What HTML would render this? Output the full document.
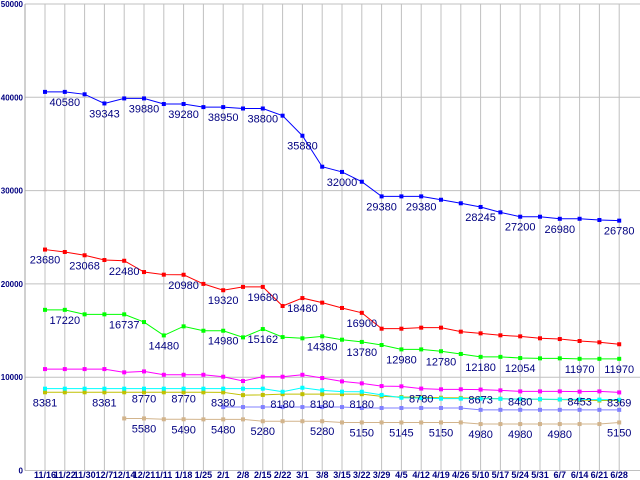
<!DOCTYPE html>
<html><head><meta charset="utf-8"><style>
html,body{margin:0;padding:0;background:#fff;}
svg{display:block;}
</style></head><body>
<svg id="chart" width="640" height="480" xmlns="http://www.w3.org/2000/svg"></svg>
<script>
const categories=["11/16","11/22","11/30","12/7","12/14","12/21","1/11","1/18","1/25","2/1","2/8","2/15","2/22","3/1","3/8","3/15","3/22","3/29","4/5","4/12","4/19","4/26","5/10","5/17","5/24","5/31","6/7","6/14","6/21","6/28"];
const yTicks=[0,10000,20000,30000,40000,50000];
const blueValues=[40580,40580,40320,39343,39880,39880,39280,39280,38950,38950,38800,38800,38030,35880,32560,32000,30950,29380,29380,29380,29020,28640,28245,27670,27200,27200,26980,26980,26850,26780];
const blueLabels=[1,3,5,7,9,11,13,15,17,19,22,24,26,29];
const redValues=[23680,23420,23068,22560,22480,21270,20990,20980,20000,19320,19680,19680,17630,18480,17990,17420,16900,15200,15200,15310,15310,14880,14700,14490,14380,14170,14090,13880,13740,13530];
const redLabels=[0,2,4,7,9,11,13,16];
const greenValues=[17220,17220,16737,16737,16737,15910,14480,15450,14980,14980,14270,15162,14300,14170,14380,14020,13780,13450,12980,12980,12780,12490,12180,12180,12054,12020,12020,11970,11970,11970];
const greenLabels=[1,4,6,9,11,14,16,18,20,22,24,27,29];
const magentaValues=[10870,10870,10870,10870,10520,10620,10260,10260,10260,10050,9590,10050,10050,10260,9910,9550,9340,9050,9020,8780,8700,8700,8673,8590,8480,8480,8480,8453,8480,8369];
const magentaLabels=[19,22,24,27,29];
const cyanValues=[8770,8770,8770,8770,8770,8770,8770,8770,8770,8770,8770,8770,8440,8870,8590,8450,8440,8100,7800,7760,7700,7700,7700,7680,7650,7650,7620,7620,7600,7580];
const cyanLabels=[5,7];
const yellowValues=[8381,8381,8381,8381,8381,8381,8381,8381,8381,8380,8080,8100,8180,8180,8180,8180,8180,7950,7880,7850,7800,7780,7750,7700,7650,7620,7600,7550,7500,7500];
const yellowLabels=[0,3,9,12,14,16];
const purpleValues=[null,null,null,null,null,null,null,null,null,6800,6800,6800,6800,6800,6800,6800,6700,6700,6700,6700,6700,6700,6500,6500,6500,6500,6500,6500,6500,6500];
const tanValues=[null,null,null,null,5580,5580,5490,5490,5480,5480,5480,5280,5280,5280,5280,5150,5150,5150,5145,5145,5150,5150,4980,4980,4980,4980,4980,4980,4980,5150];
const tanLabels=[5,7,9,11,14,16,18,20,22,24,26,29];

const NS="http://www.w3.org/2000/svg";
const svg=document.getElementById('chart');
const X0=45,DX=19.8,Y0=470.5,YTOP=4,YMAX=50000;
function xPos(i){return X0+i*DX;}
function yPos(v){return Y0-(v/YMAX)*(Y0-YTOP);}
function mk(tag,attrs){const e=document.createElementNS(NS,tag);for(const k in attrs)e.setAttribute(k,attrs[k]);svg.appendChild(e);return e;}

// grid
yTicks.forEach(t=>{
  const l=mk('line',{x1:25,x2:640,y1:yPos(t),y2:yPos(t),stroke:'#c0c0c0','stroke-width':1});
  
  
  const tx=mk('text',{x:23,y:yPos(t)+3,'text-anchor':'end','font-family':'Liberation Sans, sans-serif','font-size':8,'font-weight':'bold',fill:'#000080'});
  tx.textContent=t;
  
  
});
categories.forEach((c,i)=>{
  const l=mk('line',{x1:xPos(i),x2:xPos(i),y1:YTOP,y2:Y0,stroke:'#c0c0c0','stroke-width':1});
  
  
  const tx=mk('text',{x:xPos(i),y:478,'text-anchor':'middle','font-family':'Liberation Sans, sans-serif','font-size':9,'font-weight':'bold',fill:'#000080'});
  tx.textContent=c;
  
  
});
const ax=mk('line',{x1:25,x2:25,y1:YTOP,y2:Y0,stroke:'#a0a0a0','stroke-width':1});



function series(vals,color,labels,name){
  let d='';let started=false;
  vals.forEach((v,i)=>{if(v==null)return;d+=(started?'L':'M')+xPos(i)+' '+yPos(v)+' ';started=true;});
  const p=mk('path',{d:d,fill:'none',stroke:color,'stroke-width':1});
  
  
  vals.forEach((v,i)=>{if(v==null)return;
    const r=mk('rect',{x:xPos(i)-2,y:yPos(v)-2,width:4,height:4,fill:color});
    
    
  });
  (labels||[]).forEach(i=>{
    const t=mk('text',{x:xPos(i),y:yPos(vals[i])+14,'text-anchor':'middle','font-family':'Liberation Sans, sans-serif','font-size':11,fill:'#000080'});
    t.textContent=vals[i];
    
    
  });
}
series(tanValues,'#d2b48c',tanLabels,'tan-series');
series(purpleValues,'#8080ff',[],'purple-series');
series(yellowValues,'#c0c000',yellowLabels,'yellow-series');
series(cyanValues,'#00ffff',cyanLabels,'cyan-series');
series(magentaValues,'#ff00ff',magentaLabels,'magenta-series');
series(greenValues,'#00ff00',greenLabels,'green-series');
series(redValues,'#ff0000',redLabels,'red-series');
series(blueValues,'#0000ff',blueLabels,'blue-series');
</script>
</body></html>
